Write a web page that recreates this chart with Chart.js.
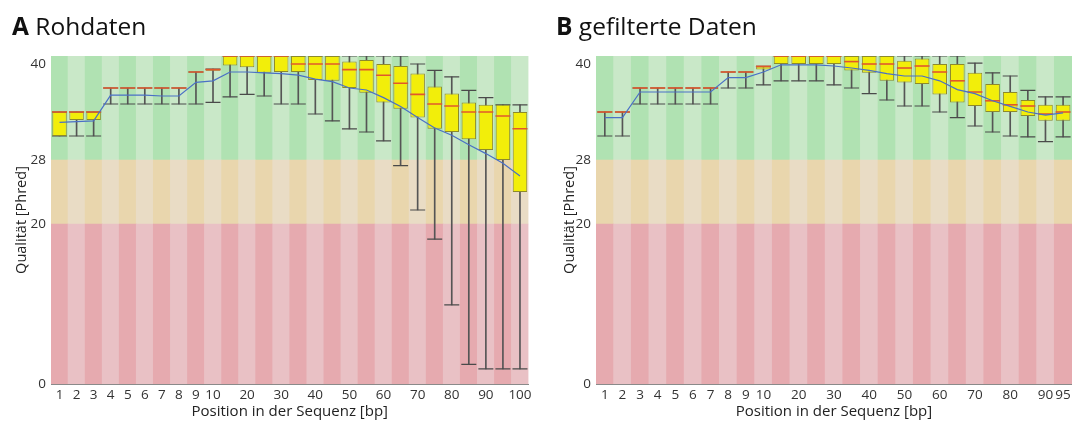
<!DOCTYPE html>
<html><head><meta charset="utf-8">
<script src="https://cdn.jsdelivr.net/npm/chart.js@4.4.1/dist/chart.umd.min.js"></script>
<style>
html,body{margin:0;padding:0;background:#fff;}
#wrap{position:relative;width:1081px;height:421px;overflow:hidden;background:#fff;}
.h{position:absolute;top:14px;font-family:'Open Sans',sans-serif;font-size:24.5px;line-height:24px;color:#111;white-space:nowrap;z-index:2;}
canvas{position:absolute;top:0;}
</style></head><body>
<div id="wrap">
<div class="h" style="left:12px"><b>A</b> Rohdaten</div>
<div class="h" style="left:556px"><b>B</b> gefilterte Daten</div>
<canvas id="cA" width="545" height="421" style="left:0"></canvas>
<canvas id="cB" width="536" height="421" style="left:545px"></canvas>
</div>
<script>
// ---- shared axis data ----
const zoneEdges = [0, 20, 28, 41];
const yTickValues = [0, 20, 28, 40];

// ---- Panel A: Rohdaten ----
const catsA = ['1','2','3','4','5','6','7','8','9','10-14','15-19','20-24','25-29','30-34','35-39','40-44','45-49','50-54','55-59','60-64','65-69','70-74','75-79','80-84','85-89','90-94','95-99','100'];
const ticksA = ['1','2','3','4','5','6','7','8','9','10','','20','','30','','40','','50','','60','','70','','80','','90','','100'];
const q1A   = [31, 33, 33, 37, 37, 37, 37, 37, 39, 39.15, 39.8, 39.6, 38.9, 39.0, 39.0, 38.0, 37.9, 37.0, 36.4, 35.2, 34.4, 33.3, 31.9, 31.5, 30.6, 29.25, 28.0, 24.0];
const medA  = [34, 34, 34, 37, 37, 37, 37, 37, 39, 39.3, 41, 41, 41, 41, 40, 40, 40, 39.3, 39.3, 38.6, 37.6, 36.2, 35.0, 34.75, 34.0, 34.0, 33.5, 31.9];
const q3A   = [34, 34, 34, 37, 37, 37, 37, 37, 39, 39.35, 41, 41, 41, 41, 41, 41, 41, 40.3, 40.5, 40.0, 39.75, 38.8, 37.2, 36.3, 35.2, 34.9, 34.9, 34.0];
const loA   = [31, 31, 31, 35, 35, 35, 35, 35, 35, 35.2, 35.9, 36.2, 36.0, 35.0, 35.0, 33.75, 32.9, 31.9, 31.5, 30.4, 27.3, 21.75, 18.1, 9.9, 2.45, 1.9, 1.9, 1.9];
const hiA   = [34, 34, 34, 37, 37, 37, 37, 37, 39, 39.35, 41, 41, 41, 41, 41, 41, 41, 41, 41, 41, 41, 40.0, 39.2, 38.4, 36.7, 35.8, 34.9, 34.9];
const meanA = [32.7, 32.8, 32.9, 36.1, 36.1, 36.1, 36.0, 36.0, 37.7, 37.9, 39.0, 39.0, 38.9, 38.8, 38.6, 38.1, 37.8, 37.0, 36.75, 35.8, 34.7, 33.3, 32.0, 31.1, 29.9, 28.8, 27.6, 26.0];

// ---- Panel B: gefilterte Daten ----
const catsB = ['1','2','3','4','5','6','7','8','9','10-14','15-19','20-24','25-29','30-34','35-39','40-44','45-49','50-54','55-59','60-64','65-69','70-74','75-79','80-84','85-89','90-94','95'];
const ticksB = ['1','2','3','4','5','6','7','8','9','10','','20','','30','','40','','50','','60','','70','','80','','90','95'];
const q1B   = [34, 34, 37, 37, 37, 37, 37, 39, 39, 39.3, 40, 40, 40, 40.0, 39.2, 38.9, 37.9, 37.7, 37.5, 36.2, 35.2, 34.75, 34.0, 34.0, 33.5, 32.9, 32.9];
const medB  = [34, 34, 37, 37, 37, 37, 37, 39, 39, 39.7, 41, 41, 41, 41, 40.3, 40.0, 40.0, 39.5, 39.75, 39.0, 37.9, 36.5, 35.4, 34.9, 34.75, 33.75, 34.0];
const q3B   = [34, 34, 37, 37, 37, 37, 37, 39, 39, 39.7, 41, 41, 41, 41, 41, 41, 41, 40.4, 40.7, 40.0, 40.0, 38.9, 37.5, 36.5, 35.5, 34.9, 34.9];
const loB   = [31, 31, 35, 35, 35, 35, 35, 37, 37, 37.4, 37.9, 37.9, 37.9, 37.4, 37.0, 36.3, 35.5, 34.75, 34.75, 34.0, 33.3, 32.25, 31.5, 31.0, 30.9, 30.3, 30.9];
const hiB   = [34, 34, 37, 37, 37, 37, 37, 39, 39, 39.7, 41, 41, 41, 41, 41, 41, 41, 41, 41, 41, 41, 40.1, 38.9, 38.5, 36.7, 35.9, 35.9];
const meanB = [33.3, 33.3, 36.5, 36.5, 36.5, 36.5, 36.5, 38.3, 38.3, 39.0, 39.9, 39.9, 39.9, 39.75, 39.5, 39.2, 38.8, 38.5, 38.5, 37.9, 36.8, 36.3, 35.4, 34.7, 34.0, 33.6, 33.9];

// ---- styles ----
const zoneDark  = ['#e6aaaf', '#e9d6ad', '#b0e2b2'];
const zoneLight = ['#e9c1c5', '#e9dcc5', '#c9e8c8'];
const FONT = "'Open Sans', 'Noto Sans', sans-serif";

function build(id, cats, tickLabels, q1, med, q3, lo, hi, mean, cfg) {
  const datasets = [];
  datasets.push({type:'line', data: mean, borderColor:'#4a70c6', borderWidth:1.2, pointRadius:0, tension:0, order:0, fill:false});
  datasets.push({type:'line', data: med, showLine:false, pointStyle:'line', pointRadius:cfg.capR, pointHoverRadius:cfg.capR,
    pointBorderColor:'#e0582c', pointBackgroundColor:'#e0582c', pointBorderWidth:1.6, order:1});
  datasets.push({type:'bar', data: q1.map((v,i)=> q3[i] > v ? [v, q3[i]] : null), backgroundColor:'#f2ee0a',
    borderColor:'#8d8a2c', borderWidth:1, borderSkipped:false, grouped:false, barPercentage:cfg.boxPct, categoryPercentage:1, order:2});
  datasets.push({type:'line', data: lo, showLine:false, pointStyle:'line', pointRadius:cfg.capR, pointHoverRadius:cfg.capR,
    pointBorderColor:'#4a4a4a', pointBorderWidth:1.2, order:3});
  datasets.push({type:'line', data: hi, showLine:false, pointStyle:'line', pointRadius:cfg.capR, pointHoverRadius:cfg.capR,
    pointBorderColor:'#4a4a4a', pointBorderWidth:1.2, order:3});
  datasets.push({type:'bar', data: lo.map((v,i)=>[v, hi[i]]), backgroundColor:'#555555', borderWidth:0,
    grouped:false, barThickness:1, order:4});
  for (let z = 0; z < 3; z++) {
    datasets.push({type:'bar', data: cats.map(()=>[zoneEdges[z], zoneEdges[z+1]]),
      backgroundColor: cats.map((c,i)=> i % 2 === 0 ? zoneDark[z] : zoneLight[z]),
      borderWidth:0, grouped:false, barPercentage:1, categoryPercentage:1, order:10});
  }
  return new Chart(document.getElementById(id), {
    type:'bar',
    data:{labels:cats, datasets},
    options:{
      responsive:false, animation:false, events:[],
      layout:{padding:{top:56, right:cfg.padRight, bottom:0, left:0}},
      plugins:{legend:{display:false}, tooltip:{enabled:false}, title:{display:false}},
      scales:{
        x:{type:'category', offset:true,
          grid:{display:false, drawTicks:false},
          border:{display:true, color:'#8a8a8a', width:1},
          ticks:{autoSkip:false, maxRotation:0, minRotation:0, padding:3, color:'#333',
            font:{family:FONT, size:13.5}, callback:(v,i)=>tickLabels[i]},
          title:{display:true, text:'Position in der Sequenz [bp]', color:'#222',
            font:{family:FONT, size:15}, padding:{top:0, bottom:0}},
          afterFit:(s)=>{ s.height = 37; }
        },
        y:{type:'linear', min:zoneEdges[0], max:zoneEdges[zoneEdges.length-1],
          grid:{display:false, drawTicks:false},
          border:{display:true, color:'#8a8a8a', width:1},
          afterBuildTicks:(s)=>{ s.ticks = yTickValues.map(v=>({value:v})); },
          ticks:{padding:5, color:'#333', font:{family:FONT, size:13.5}},
          title:{display:true, text:'Qualität [Phred]', color:'#222',
            font:{family:FONT, size:14.5}, padding:{top:cfg.titlePad, bottom:0}},
          afterFit:(s)=>{ s.width = cfg.yw; }
        }
      }
    }
  });
}

build('cA', catsA, ticksA, q1A, medA, q3A, loA, hiA, meanA, {yw:51, padRight:16.5, titlePad:13.3, capR:7.5, boxPct:0.85});
build('cB', catsB, ticksB, q1B, medB, q3B, loB, hiB, meanB, {yw:51, padRight:8.7, titlePad:16.3, capR:7.5, boxPct:0.83});
</script>
</body></html>
